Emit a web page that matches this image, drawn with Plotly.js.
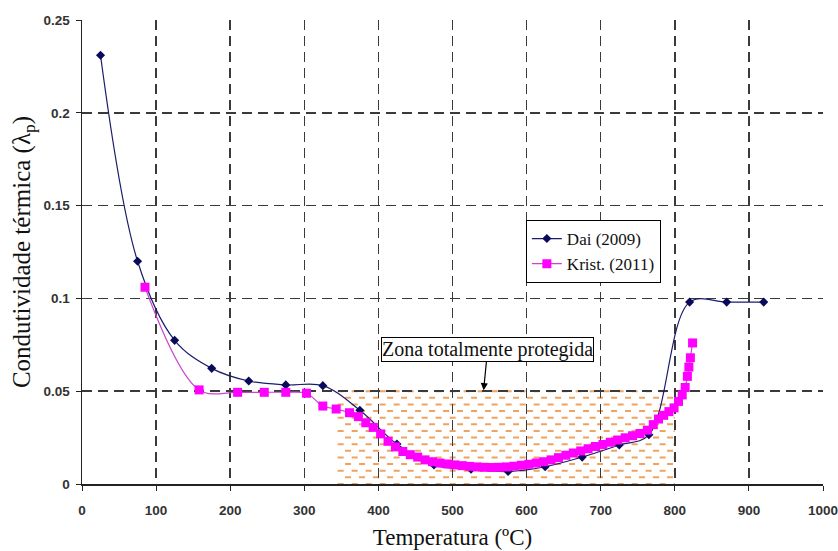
<!DOCTYPE html>
<html>
<head>
<meta charset="utf-8">
<script src="https://cdn.plot.ly/plotly-3.0.1.min.js"></script>
<style>html,body{margin:0;padding:0;background:#fff;}#chart{width:838px;height:551px;}</style>
</head>
<body>
<div id="chart"></div>
<script>
// Dai (2009)
const daiT = [25, 75, 125, 175, 225, 275, 325, 375, 425, 475, 525, 575, 625, 675, 725, 765, 820, 870, 920];
const daiL = [0.231, 0.120, 0.0774, 0.0623, 0.0555, 0.0534, 0.053, 0.0397, 0.0215, 0.0102, 0.008, 0.0067, 0.0093, 0.0145, 0.021, 0.0265, 0.098, 0.098, 0.098];

// Krist. (2011)
const kriT = [85, 158, 210, 246, 275, 303, 325, 343, 361, 373, 383, 393, 403, 413, 423, 433, 443, 453, 463, 473,
  483, 493, 503, 513, 523, 533, 543, 553, 563, 573, 583, 593, 603, 613, 623, 633, 643, 653, 663, 673,
  683, 693, 703, 713, 723, 733, 743, 753, 763, 771, 778, 785, 792, 799, 805, 810, 814, 817, 819, 821, 824];
const kriL = [0.106, 0.0507, 0.0494, 0.0494, 0.0494, 0.0489, 0.042, 0.0404, 0.0384, 0.0363, 0.033, 0.0305, 0.027, 0.023, 0.020, 0.0175, 0.0158, 0.0145, 0.013, 0.012,
  0.0113, 0.0108, 0.0103, 0.0099, 0.0095, 0.0092, 0.009, 0.0089, 0.009, 0.0092, 0.0096, 0.0101, 0.0106, 0.0113, 0.012, 0.013, 0.0142, 0.0155, 0.0167, 0.0178,
  0.019, 0.0202, 0.0213, 0.0225, 0.0237, 0.0249, 0.026, 0.0272, 0.029, 0.032, 0.035, 0.037, 0.039, 0.041, 0.0445, 0.048, 0.052, 0.058, 0.063, 0.068, 0.076];

const xTicks = [0, 100, 200, 300, 400, 500, 600, 700, 800, 900, 1000];
const yTicks = [0, 0.05, 0.1, 0.15, 0.2, 0.25];

// protected zone
const zoneX = [345, 800];
const zoneY = [0, 0.05];
const zoneLabel = 'Zona totalmente protegida';
const arrowTip = [542, 0.0505];

// hatch (decorative dashes) built as shapes
const shapes = [];
const rows = 14;
for (let i = 0; i <= rows; i++) {
  const yv = zoneY[0] + (zoneY[1] - zoneY[0]) * i / rows;
  const off = (i % 2) ? 10 : 0;
  shapes.push({
    type: 'line', layer: 'below', xref: 'x', yref: 'y',
    x0: zoneX[0] + off, x1: zoneX[1], y0: yv, y1: yv,
    line: {color: '#efa35f', width: 2, dash: '6px,8px'}
  });
}

const serif = 'Liberation Serif, Times New Roman, serif';
const sans = 'Liberation Sans, Arial, sans-serif';

const traces = [
  {
    x: daiT, y: daiL, name: 'Dai (2009)', type: 'scatter', mode: 'lines+markers',
    line: {color: '#1b1b6b', width: 1.2, shape: 'spline', smoothing: 1},
    marker: {symbol: 'diamond', size: 7, color: '#0a0a5a'}
  },
  {
    x: kriT, y: kriL, name: 'Krist. (2011)', type: 'scatter', mode: 'lines+markers',
    line: {color: '#cc44cc', width: 1.2, shape: 'spline', smoothing: 1},
    marker: {symbol: 'square', size: 9, color: '#ff00ff'}
  }
];

const layout = {
  width: 838, height: 551,
  margin: {l: 82, r: 15, t: 20, b: 67},
  paper_bgcolor: '#fff', plot_bgcolor: '#fff',
  showlegend: true,
  legend: {
    x: 0.599, y: 0.569, xanchor: 'left', yanchor: 'top',
    bgcolor: '#fff', bordercolor: '#000', borderwidth: 1,
    font: {family: serif, size: 17, color: '#111'},
    tracegroupgap: 0, itemwidth: 30
  },
  xaxis: {
    range: [0, 1000], tickvals: xTicks, ticktext: xTicks.map(String),
    showgrid: true, gridcolor: '#3a3a3a', gridwidth: 1.5, griddash: '10px,6px',
    zeroline: false, showline: true, linecolor: '#222', linewidth: 1.5,
    ticks: 'outside', ticklen: 5, tickcolor: '#222', ticklabelstandoff: 8,
    ticklabeloverflow: 'allow',
    tickfont: {family: sans, size: 13.5, color: '#333', weight: 700},
    title: {text: 'Temperatura (ºC)', font: {family: serif, size: 23, color: '#111'}, standoff: 12}
  },
  yaxis: {
    range: [0, 0.25], tickvals: yTicks, ticktext: ['0', '0.05', '0.1', '0.15', '0.2', '0.25'],
    showgrid: true, gridcolor: '#3a3a3a', gridwidth: 1.5, griddash: '10px,6px',
    zeroline: false, showline: true, linecolor: '#222', linewidth: 1.5,
    ticks: 'outside', ticklen: 5, tickcolor: '#222', ticklabelstandoff: 3,
    ticklabeloverflow: 'allow',
    tickfont: {family: sans, size: 13.5, color: '#333', weight: 700},
    title: {text: 'Condutividade térmica (λ<sub>p</sub>)', font: {family: serif, size: 25, color: '#111'}, standoff: 6}
  },
  shapes: shapes,
  annotations: [{
    x: arrowTip[0], y: arrowTip[1], xref: 'x', yref: 'y',
    text: zoneLabel, showarrow: true, ax: 4, ay: -41,
    arrowhead: 2, arrowsize: 1.2, arrowwidth: 1.2, arrowcolor: '#000',
    font: {family: serif, size: 20, color: '#111'},
    bgcolor: '#fff', bordercolor: '#000', borderwidth: 1, borderpad: 0
  }]
};

Plotly.newPlot('chart', traces, layout, {displayModeBar: false, staticPlot: true});
</script>
</body>
</html>
